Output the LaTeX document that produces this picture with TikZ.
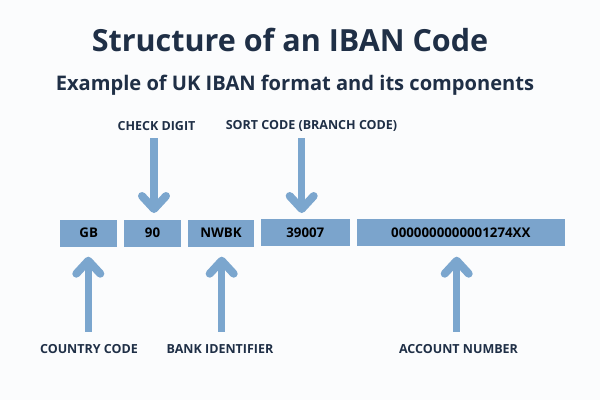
\documentclass[tikz,border=0pt]{standalone}
\usepackage{fontspec}
\setmainfont{Open Sans}
\definecolor{bg}{HTML}{FBFCFD}
\definecolor{boxc}{HTML}{7BA4CC}
\definecolor{arrc}{HTML}{7BA6CE}
\definecolor{ink}{HTML}{1F2F46}
\tikzset{
  field/.style={fill=boxc, draw=none, inner sep=0pt, minimum height=27pt, font=\bfseries\fontsize{13.3}{15}\selectfont, text=black},
  lbl/.style={font=\fontsize{12.5}{14}\selectfont\bfseries, text=ink, inner sep=0pt},
  shaft/.style={draw=arrc, line width=7.5pt},
  chev/.style={draw=arrc, line width=8pt, line cap=round, line join=round},
}
\begin{document}
\begin{tikzpicture}[x=1pt,y=-1pt]
\useasboundingbox[fill=bg] (0,0) rectangle (600,400);
\node[font=\bfseries\fontsize{30.5}{36}\selectfont, text=ink] (title) at (290,40) {Structure of an IBAN Code};
\node[font=\bfseries\fontsize{20.1}{24}\selectfont, text=ink] (sub) at (295,85) {Example of UK IBAN format and its components};
% fields
\node[field, minimum width=57pt] (gb) at (88.7,233) {GB};
\node[field, minimum width=57pt] (cd) at (152.5,233) {90};
\node[field, minimum width=66.6pt] (nw) at (221,233) {NWBK};
\node[field, minimum width=89.3pt] (sc) at (305.3,232.5) {39007};
\node[field, minimum width=208.3pt] (an) at (460.8,232.5) {0000000000001274XX};
% top labels
\node[lbl] (lcd) at (156.5,126) {CHECK DIGIT};
\node[lbl] (lsc) at (311.5,126) {SORT CODE (BRANCH CODE)};
% bottom labels
\node[lbl] (lcc) at (89,349) {COUNTRY CODE};
\node[lbl] (lbi) at (220,349) {BANK IDENTIFIER};
\node[lbl] (lan) at (458.5,349) {ACCOUNT NUMBER};
% down arrows
\foreach \xx/\nm in {154/a, 301.7/b}{
  \coordinate (\nm top) at (\xx,138.3);
  \coordinate (\nm tip) at (\xx,209);
  \draw[shaft] (\nm top) -- (\nm tip);
  \draw[chev] ([xshift=-12pt,yshift=13pt]\nm tip) -- (\nm tip) -- ([xshift=12pt,yshift=13pt]\nm tip);
}
% up arrows
\foreach \xx/\nm in {88.3/c, 221.7/d, 456.7/e}{
  \coordinate (\nm bot) at (\xx,331.7);
  \coordinate (\nm tip) at (\xx,260.7);
  \draw[shaft] (\nm bot) -- (\nm tip);
  \draw[chev] ([xshift=-12pt,yshift=-13pt]\nm tip) -- (\nm tip) -- ([xshift=12pt,yshift=-13pt]\nm tip);
}
\end{tikzpicture}
\end{document}
